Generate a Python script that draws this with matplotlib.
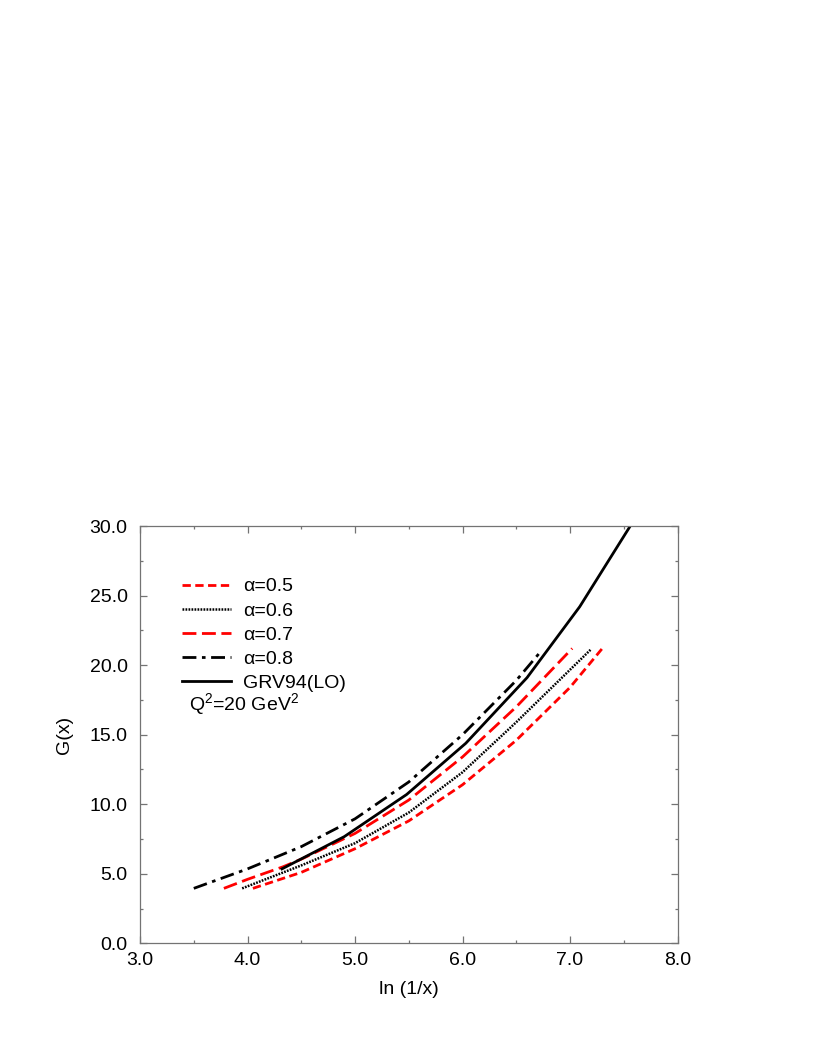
import matplotlib
matplotlib.use("Agg")
import matplotlib.pyplot as plt
from matplotlib.ticker import MultipleLocator, FormatStrFormatter

plt.rcParams['font.family'] = ['Liberation Sans', 'DejaVu Sans']
plt.rcParams['mathtext.fontset'] = 'custom'
plt.rcParams['mathtext.rm'] = 'Liberation Sans'

# G(x) vs ln(1/x)
x_a05 = [4.05, 4.5, 5.0, 5.5, 6.0, 6.5, 7.0, 7.3]
g_a05 = [3.95, 5.1, 6.8, 8.8, 11.4, 14.6, 18.4, 21.2]

x_a06 = [3.95, 4.3, 4.5, 5.0, 5.5, 6.0, 6.5, 7.19]
g_a06 = [3.95, 5.0, 5.6, 7.2, 9.4, 12.3, 15.9, 21.1]

x_a07 = [3.78, 4.0, 4.33, 4.5, 5.0, 5.5, 6.0, 6.5, 7.02]
g_a07 = [3.95, 4.6, 5.5, 6.05, 7.9, 10.3, 13.4, 17.0, 21.2]

x_a08 = [3.5, 4.0, 4.5, 5.0, 5.5, 6.0, 6.5, 6.73]
g_a08 = [3.95, 5.35, 6.95, 8.95, 11.6, 15.0, 18.9, 21.0]

x_grv = [4.32, 4.9, 5.48, 6.03, 6.6, 7.09, 7.56]
g_grv = [5.35, 7.67, 10.7, 14.38, 19.1, 24.2, 30.0]

fs = 14

fig = plt.figure(figsize=(8.17, 10.58), dpi=100)
ax = fig.add_axes([0.1714, 0.1084, 0.6579, 0.3944])

lw = 2.0
ax.plot(x_a05, g_a05, color='red', lw=lw, linestyle=(0, (3, 1.6)), label='α=0.5')
ax.plot(x_a06, g_a06, color='black', lw=1.8, linestyle=(0, (0.7, 0.5)), label='α=0.6')
ax.plot(x_a07, g_a07, color='red', lw=lw, linestyle=(0, (5, 2)), label='α=0.7')
ax.plot(x_a08, g_a08, color='black', lw=lw, linestyle=(0, (5, 2, 1.3, 2)), label='α=0.8')
ax.plot(x_grv, g_grv, color='black', lw=lw, linestyle='-', label='GRV94(LO)')

ax.set_xlim(3.0, 8.0)
ax.set_ylim(0.0, 30.0)
ax.xaxis.set_major_locator(MultipleLocator(1.0))
ax.xaxis.set_minor_locator(MultipleLocator(0.5))
ax.yaxis.set_major_locator(MultipleLocator(5.0))
ax.yaxis.set_minor_locator(MultipleLocator(2.5))
ax.xaxis.set_major_formatter(FormatStrFormatter('%.1f'))
ax.yaxis.set_major_formatter(FormatStrFormatter('%.1f'))

for s in ax.spines.values():
    s.set_color('0.45')
    s.set_linewidth(0.9)
ax.tick_params(which='both', direction='in', top=True, right=True,
               color='0.45', width=0.9, labelsize=fs)
ax.tick_params(which='major', length=5)
ax.tick_params(which='minor', length=2.5)
ax.tick_params(axis='x', which='major', pad=6)
ax.tick_params(axis='y', which='major', pad=9)

ax.set_xlabel('ln (1/x)', fontsize=fs)
ax.set_ylabel('G(x)', fontsize=fs)
ax.xaxis.set_label_coords(0.5, -0.09)
ax.yaxis.set_label_coords(-0.125, 0.5)

ax.legend(loc='upper left', bbox_to_anchor=(0.079, 0.876), frameon=False,
          fontsize=fs, handlelength=2.5, handletextpad=0.6,
          labelspacing=0.34, borderpad=0, borderaxespad=0)
ax.text(0.091, 0.573, r'Q$^2$=20 GeV$^2$', transform=ax.transAxes,
        fontsize=fs, va='center', ha='left')

fig.savefig('out.png', dpi=100)
